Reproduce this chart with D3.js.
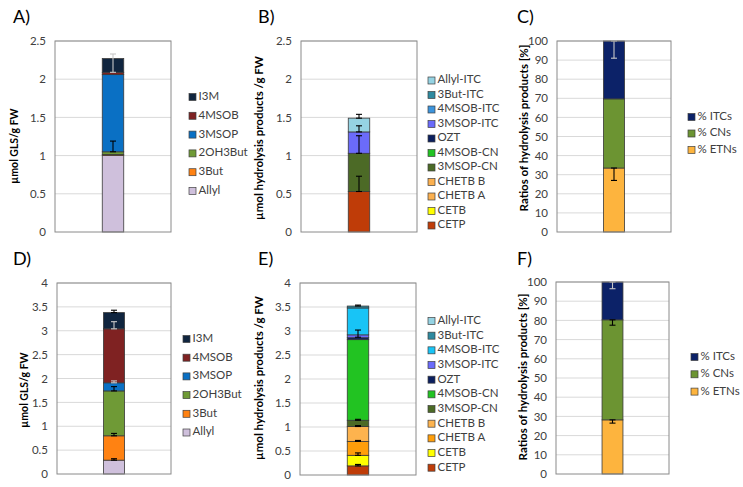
<!DOCTYPE html>
<html>
<head>
<meta charset="utf-8">
<script src="https://cdn.jsdelivr.net/npm/d3@7/dist/d3.min.js"></script>
<style>
  body { margin: 0; background: #fff; }
  text { font-family: Lato, "Open Sans", "Noto Sans", sans-serif; }
</style>
</head>
<body>
<script>
// series are listed bottom of the stack first
const glsSeries = ["Allyl", "3But", "2OH3But", "3MSOP", "4MSOB", "I3M"];
const hpSeries = ["CETP", "CETB", "CHETB A", "CHETB B", "3MSOP-CN", "4MSOB-CN", "OZT",
                  "3MSOP-ITC", "4MSOB-ITC", "3But-ITC", "Allyl-ITC"];
const ratioSeries = ["% ETNs", "% CNs", "% ITCs"];

// A) glucosinolates, µmol/g FW
const aValues  = [1.00, 0.015, 0.035, 1.01, 0.03, 0.18];
const aErrUp   = [0, 0, 0.14, 0, 0, 0.06];
const aErrDown = [0, 0, 0, 0, 0, 0.18];

// B) hydrolysis products
const bValues  = [0.53, 0, 0, 0, 0.50, 0, 0, 0.28, 0, 0, 0.18];
const bErrUp   = [0.20, 0, 0, 0, 0.23, 0, 0, 0.08, 0, 0, 0.05];
const bErrDown = [0, 0, 0, 0, 0, 0, 0, 0, 0, 0, 0];

// C) ratios [%]
const cValues  = [33.5, 36.2, 30.3];
const cErrUp   = [0, 0, 0];
const cErrDown = [6.5, 0, 9.0];

// D) glucosinolates
const dValues  = [0.29, 0.51, 0.94, 0.17, 1.13, 0.34];
const dErrUp   = [0.03, 0.05, 0.09, 0.04, 0.15, 0.05];
const dErrDown = [0, 0, 0, 0, 0, 0];

// E) hydrolysis products
const eValues  = [0.19, 0.22, 0.29, 0.31, 0.13, 1.68, 0.04, 0.06, 0.56, 0.04, 0];
const eErrUp   = [0.03, 0.05, 0.02, 0.02, 0.02, 0, 0, 0.10, 0, 0.02, 0];
const eErrDown = [0, 0, 0, 0, 0, 0, 0, 0.05, 0, 0, 0];

// F) ratios [%]
const fValues  = [28.2, 52.1, 19.7];
const fErrUp   = [0, 0, 0];
const fErrDown = [1.7, 2.8, 3.5];

const glsColors = ["#cfc0dc", "#ff8212", "#6f9a36", "#0a70c4", "#7f2222", "#10253f"];
const hpColorsB = ["#bf3c08", "#ffff00", "#fbb04f", "#fbb04f", "#4c6a26", "#22c322", "#0b1f5e",
                   "#6b6bfa", "#3c94dc", "#2f8aa0", "#95d3e3"];
const hpColorsE = ["#bf3c08", "#ffff00", "#ff9e0a", "#fdb34e", "#4c6a26", "#22c322", "#0b1f5e",
                   "#6b6bfa", "#18c4f6", "#2f8aa0", "#95d3e3"];
const ratioColors = ["#fdb43e", "#6c9432", "#0c2268"];

const panels = [
  { label: "A)", lx: 13, ly: 23, left: 55, right: 171, top: 41, bottom: 232, ymax: 2.5, step: 0.5,
    title: "µmol GLS/g  FW", tx: 15, ty: 146, tsize: 10.5, series: glsSeries, colors: glsColors,
    values: aValues, up: aErrUp, down: aErrDown, legX: 189, legY: 97, legStep: 18.8 },
  { label: "B)", lx: 258, ly: 23, left: 301, right: 417, top: 41, bottom: 232, ymax: 2.5, step: 0.5,
    title: "µmol hydrolysis products /g FW", tx: 260, ty: 138, tsize: 11.5, series: hpSeries, colors: hpColorsB,
    values: bValues, up: bErrUp, down: bErrDown, legX: 428, legY: 80.5, legStep: 14.5 },
  { label: "C)", lx: 517, ly: 23, left: 557, right: 671, top: 41, bottom: 232, ymax: 100, step: 10,
    title: "Ratios of hydrolysis products [%]", tx: 525, ty: 128, tsize: 11.5, series: ratioSeries, colors: ratioColors,
    values: cValues, up: cErrUp, down: cErrDown, legX: 688, legY: 117, legStep: 16.5 },
  { label: "D)", lx: 13, ly: 265, left: 57, right: 171, top: 283, bottom: 474, ymax: 4, step: 0.5,
    title: "µmol GLS/g  FW", tx: 25, ty: 390, tsize: 10.5, series: glsSeries, colors: glsColors,
    values: dValues, up: dErrUp, down: dErrDown, legX: 183, legY: 339, legStep: 18.7 },
  { label: "E)", lx: 258, ly: 265, left: 300, right: 416, top: 283, bottom: 475, ymax: 4, step: 0.5,
    title: "µmol hydrolysis products /g FW", tx: 260, ty: 378, tsize: 11.5, series: hpSeries, colors: hpColorsE,
    values: eValues, up: eErrUp, down: eErrDown, legX: 428, legY: 321, legStep: 14.67 },
  { label: "F)", lx: 517, ly: 265, left: 556, right: 669, top: 282, bottom: 474, ymax: 100, step: 10,
    title: "Ratios of hydrolysis products [%]", tx: 524, ty: 377, tsize: 11.5, series: ratioSeries, colors: ratioColors,
    values: fValues, up: fErrUp, down: fErrDown, legX: 691, legY: 357, legStep: 17.3 }
];

const svg = d3.select("body").append("svg")
  .attr("width", 743).attr("height", 487);

function luminance(c) {
  const rgb = d3.rgb(c);
  const lin = v => { v /= 255; return v <= 0.03928 ? v / 12.92 : Math.pow((v + 0.055) / 1.055, 2.4); };
  return 0.2126 * lin(rgb.r) + 0.7152 * lin(rgb.g) + 0.0722 * lin(rgb.b);
}

function drawPanel(p) {
  const g = svg.append("g");
  const y = d3.scaleLinear().domain([0, p.ymax]).range([p.bottom, p.top]);
  const x = d3.scaleBand().domain(["s"]).range([p.left, p.right])
    .paddingInner(0).paddingOuter(2.2);
  const ticks = d3.range(0, p.ymax + p.step / 2, p.step);

  g.selectAll(".grid")
    .data(ticks.slice(1))
    .enter()
    .append("line")
    .attr("x1", p.left).attr("x2", p.right)
    .attr("y1", d => y(d)).attr("y2", d => y(d))
    .attr("stroke", "#d9d9d9").attr("stroke-width", 1);

  const axis = d3.axisLeft(y).tickValues(ticks).tickSize(0).tickPadding(9)
    .tickFormat(d3.format("~g"));
  const ag = g.append("g").attr("transform", `translate(${p.left},0)`).call(axis);
  ag.select(".domain").remove();
  ag.selectAll("text")
    .attr("font-size", 11.5).attr("fill", "#404040")
    .style("font-family", "Lato, 'Open Sans', sans-serif");

  const row = {};
  p.series.forEach((s, i) => row[s] = p.values[i]);
  const stack = d3.stack().keys(p.series)([row]);

  g.selectAll(".seg")
    .data(stack.filter(d => d[0][1] - d[0][0] > 0))
    .enter()
    .append("rect")
    .attr("x", x("s")).attr("width", x.bandwidth())
    .attr("y", d => y(d[0][1]))
    .attr("height", d => y(d[0][0]) - y(d[0][1]))
    .attr("fill", d => p.colors[d.index])
    .attr("stroke", "#3a3a3a").attr("stroke-width", 0.8);

  // error bars, light grey when sitting over a dark segment
  const errs = stack.map((d, i) => ({
    top: d[0][1], lo: d[0][1] - p.down[i], hi: d[0][1] + p.up[i]
  })).filter((e, i) => p.up[i] > 0 || p.down[i] > 0);

  const cx = x("s") + x.bandwidth() / 2;
  errs.forEach(e => {
    const mid = (e.lo + e.hi) / 2;
    const under = stack.find(d => mid >= d[0][0] && mid < d[0][1]);
    const col = under && luminance(p.colors[under.index]) < 0.08 ? "#c8c8c8" : "#000";
    const eg = g.append("g").attr("stroke", col).attr("stroke-width", 1.1);
    eg.append("line").attr("x1", cx).attr("x2", cx).attr("y1", y(e.lo)).attr("y2", y(e.hi));
    [e.lo, e.hi].forEach(v => {
      eg.append("line").attr("x1", cx - 3).attr("x2", cx + 3).attr("y1", y(v)).attr("y2", y(v));
    });
  });

  g.append("rect")
    .attr("x", p.left).attr("y", p.top)
    .attr("width", p.right - p.left).attr("height", p.bottom - p.top)
    .attr("fill", "none").attr("stroke", "#8a8a8a").attr("stroke-width", 1);

  g.append("text")
    .attr("transform", `translate(${p.tx},${p.ty}) rotate(-90)`)
    .attr("text-anchor", "middle").attr("dominant-baseline", "middle")
    .attr("font-size", p.tsize).attr("font-weight", "bold").attr("fill", "#000")
    .text(p.title);

  g.append("text")
    .attr("x", p.lx).attr("y", p.ly)
    .attr("font-size", 18).attr("fill", "#000")
    .text(p.label);

  const legend = g.selectAll(".leg")
    .data(p.series.map((s, i) => ({ s, c: p.colors[i] })).reverse())
    .enter()
    .append("g")
    .attr("transform", (d, i) => `translate(${p.legX},${p.legY + i * p.legStep})`);
  legend.append("rect")
    .attr("x", 0).attr("y", -3.5).attr("width", 7).attr("height", 7)
    .attr("fill", d => d.c).attr("stroke", "#404040").attr("stroke-width", 0.7);
  legend.append("text")
    .attr("x", 9.5).attr("y", 0).attr("dominant-baseline", "middle")
    .attr("font-size", 11.5).attr("fill", "#404040")
    .text(d => d.s);
}

panels.forEach(drawPanel);
</script>
</body>
</html>
